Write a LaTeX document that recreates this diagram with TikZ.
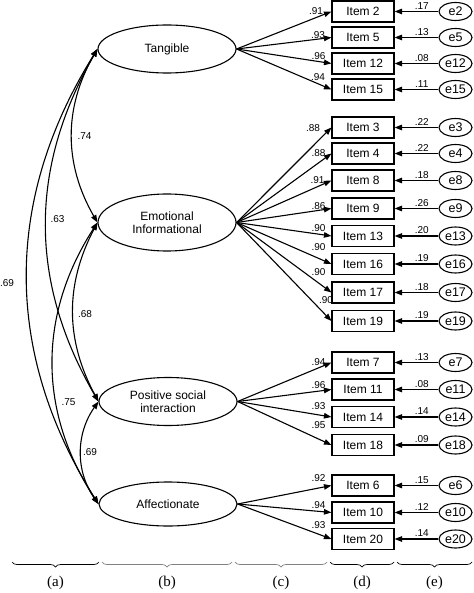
\documentclass[tikz,border=0pt]{standalone}
\usepackage{fontspec}
\setmainfont{Liberation Sans}
\newfontfamily\seriffont{Liberation Serif}
\usetikzlibrary{shapes.geometric,arrows.meta,decorations.pathreplacing}
\begin{document}
\begin{tikzpicture}[x=1pt,y=-1pt,
  latent/.style={draw, ellipse, line width=1.1pt, minimum width=138pt, minimum height=48pt, inner sep=0pt, align=center, font=\fontsize{12}{13.5}\selectfont},
  itembox/.style={draw, rectangle, line width=1.1pt, minimum width=62pt, minimum height=21pt, inner sep=0pt, font=\fontsize{12}{14}\selectfont},
  errnode/.style={draw, ellipse, line width=1.1pt, minimum width=33pt, minimum height=18pt, inner sep=0pt, font=\fontsize{12.5}{14}\selectfont},
  lab/.style={font=\fontsize{10}{11}\selectfont, inner sep=0pt},
  arr/.style={-{Triangle[length=7.5pt,width=5.5pt]}, line width=1.1pt},
  cov/.style={{Triangle[length=7.5pt,width=5.5pt]}-{Triangle[length=7.5pt,width=5.5pt]}, line width=1.1pt},
  bracedraw/.style={decorate, decoration={brace, mirror, amplitude=5pt}, line width=0.7pt},
  blab/.style={font=\seriffont\fontsize{15}{17}\selectfont, inner sep=0pt}
]
\fill[white] (0,0) rectangle (473,593);
\useasboundingbox (0,0) rectangle (473,593);

% latent factors
\node[latent] (T) at (167,49) {Tangible};
\node[latent, minimum height=57pt] (E) at (167,222.5) {Emotional\\Informational};
\node[latent] (P) at (168,401.5) {Positive social\\interaction};
\node[latent, minimum height=44pt] (A) at (168,504) {Affectionate};

% items and errors
\foreach \n/\y in {2/11.5,5/37.5,12/63.5,15/89.5,
                   3/127.5,4/153.5,8/180.5,9/208.5,13/236,16/264,17/292.5,19/321,
                   7/362.5,11/389.5,14/417,18/445,
                   6/485.5,10/512.5,20/539}{
  \node[itembox] (i\n) at (363,\y) {Item \n};
  \node[errnode] (e\n) at (455.5,\y) {e\n};
}

% loadings
\foreach \n in {2,5,12,15}{\draw[arr] (T.east) -- (i\n.west);}
\foreach \n in {3,4,8,9,13,16,17,19}{\draw[arr] (E.east) -- (i\n.west);}
\foreach \n in {7,11,14,18}{\draw[arr] (P.east) -- (i\n.west);}
\foreach \n in {6,10,20}{\draw[arr] (A.east) -- (i\n.west);}

% loading labels
\node[lab] (l2) at (316,11.5) {.91};
\node[lab] (l5) at (318,35) {.93};
\node[lab] (l12) at (318.5,56.5) {.96};
\node[lab] (l15) at (318,77) {.94};
\node[lab] (l3) at (313,128.5) {.88};
\node[lab] (l4) at (318.5,153.5) {.88};
\node[lab] (l8) at (317.5,180) {.91};
\node[lab] (l9) at (318.5,206.5) {.86};
\node[lab] (l13) at (318.5,228.5) {.90};
\node[lab] (l16) at (318.5,247) {.90};
\node[lab] (l17) at (318.5,272.5) {.90};
\node[lab] (l19) at (326,300.5) {.90};
\node[lab] (l7) at (318.5,362.5) {.94};
\node[lab] (l11) at (318.5,385.5) {.96};
\node[lab] (l14) at (318.5,406.5) {.93};
\node[lab] (l18) at (318.5,425) {.95};
\node[lab] (l6) at (318.5,478.5) {.92};
\node[lab] (l10) at (318.5,505) {.94};
\node[lab] (l20) at (318.5,525.5) {.93};

% error arrows with labels
\foreach \n/\v in {2/.17,5/.13,12/.08,15/.11,
                   3/.22,4/.22,8/.18,9/.26,13/.20,16/.19,17/.18,19/.19,
                   7/.13,11/.08,14/.14,18/.09,
                   6/.15,10/.12,20/.14}{
  \draw[arr] (e\n.west) -- node[lab, pos=0.38, above=1.5pt] {\v} (i\n.east);
}

% covariances
\draw[cov] (T.west) to[bend right=30] node[lab, pos=0.5, right=5pt] (c1) {.74} (E.west);
\draw[cov] (T.west) to[bend right=30] (P.west);
\node[lab] (c2) at (57.5,219) {.63};
\draw[cov] (T.west) to[bend right=32] (A.west);
\node[lab] (c3) at (7,283) {.69};
\draw[cov] (E.west) to[bend right=28] (P.west);
\node[lab] (c4) at (85,314) {.68};
\draw[cov] (E.west) to[bend right=33] (A.west);
\node[lab] (c5) at (68.5,402) {.75};
\draw[cov] (P.west) to[bend right=35] (A.west);
\node[lab] (c6) at (90,452.5) {.69};

% braces
\draw[bracedraw] (12,562) -- (99,562);
\draw[bracedraw, gray] (102,562) -- (232,562);
\draw[bracedraw, gray] (235,562) -- (327,562);
\draw[bracedraw] (330,562) -- (394,562);
\draw[bracedraw] (397,562) -- (472,562);
\node[blab] (ba) at (55.5,583) {(a)};
\node[blab] (bb) at (167,583) {(b)};
\node[blab] (bc) at (281,583) {(c)};
\node[blab] (bd) at (362,583) {(d)};
\node[blab] (be) at (434.5,583) {(e)};
\end{tikzpicture}
\end{document}
